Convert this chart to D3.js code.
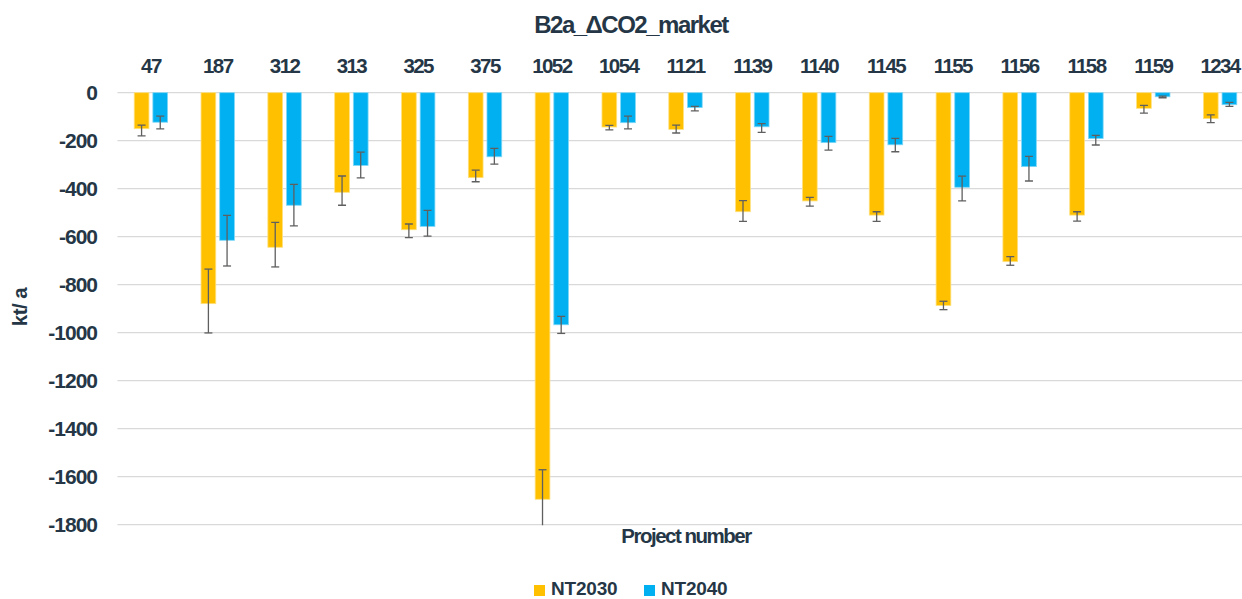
<!DOCTYPE html>
<html>
<head>
<meta charset="utf-8">
<script src="https://cdn.jsdelivr.net/npm/d3@7"></script>
<style>
  html, body { margin: 0; padding: 0; background: #fff; }
  svg text { font-family: "Liberation Sans", Arial, sans-serif; font-weight: bold; fill: #253746; }
</style>
</head>
<body>
<svg id="chart" width="1242" height="599"></svg>
<script>
// ---------- data ----------
const categories = ["47","187","312","313","325","375","1052","1054","1121","1139","1140","1145","1155","1156","1158","1159","1234"];
const seriesNames = ["NT2030","NT2040"];
const nt2030 = [-150,-879,-644,-415,-571,-354,-1694,-143,-153,-496,-451,-510,-887,-704,-510,-65,-108];
const nt2040 = [-123,-615,-469,-303,-557,-267,-967,-125,-62,-142,-208,-217,-394,-308,-191,-17,-50];
// error bar ends (upper = closer to zero, lower = more negative)
const nt2030ErrHi = [-135,-735,-540,-347,-547,-323,-1571,-136,-135,-450,-436,-496,-869,-683,-496,-53,-92];
const nt2030ErrLo = [-180,-1001,-726,-469,-604,-371,-1850,-155,-168,-536,-473,-536,-904,-719,-535,-85,-125];
const nt2040ErrHi = [-98,-511,-382,-248,-490,-232,-932,-98,-57,-129,-182,-190,-348,-265,-178,-14,-40];
const nt2040ErrLo = [-151,-722,-555,-355,-598,-298,-1003,-151,-76,-165,-239,-246,-451,-368,-218,-21,-57];
const yTicks = [0,-200,-400,-600,-800,-1000,-1200,-1400,-1600,-1800];
const colors = ["#FFC000","#00B0F0"];
const strokeColors = ["#FFE17F","#7FD7F7"];

// ---------- layout ----------
const svg = d3.select("#chart");
const plotLeft = 117.5, plotRight = 1253.5, plotTop = 92.7, plotBottom = 524.7;

const x0 = d3.scaleBand().domain(categories).range([plotLeft, plotRight]).paddingInner(0.5).paddingOuter(0.25);
const x1 = d3.scaleBand().domain(seriesNames).range([0, x0.bandwidth()]).paddingInner(0.21);
const y = d3.scaleLinear().domain([0, -1800]).range([plotTop, plotBottom]);

const data = seriesNames.map((s, si) => ({
  name: s,
  color: colors[si],
  stroke: strokeColors[si],
  values: si === 0 ? nt2030 : nt2040,
  hi: si === 0 ? nt2030ErrHi : nt2040ErrHi,
  lo: si === 0 ? nt2030ErrLo : nt2040ErrLo
}));

// clip
svg.append("defs").append("clipPath").attr("id", "plotclip")
  .append("rect").attr("x", 0).attr("y", plotTop - 2).attr("width", 1242).attr("height", plotBottom - plotTop + 2.5);

// gridlines
svg.append("g").selectAll("line").data(yTicks).join("line")
  .attr("x1", plotLeft).attr("x2", 1242)
  .attr("y1", d => y(d)).attr("y2", d => y(d))
  .attr("stroke", "#D9D9D9").attr("stroke-width", 1.3);

// y tick labels
svg.append("g").selectAll("text").data(yTicks).join("text")
  .attr("x", 97).attr("y", d => y(d) + 7.5)
  .attr("text-anchor", "end")
  .style("font-size", "21px").style("letter-spacing", "-1px")
  .text(d => d3.format("d")(d).replace("−", "-"));

// bars
const groups = svg.append("g").attr("clip-path", "url(#plotclip)");
data.forEach(s => {
  groups.append("g").selectAll("rect").data(categories).join("rect")
    .attr("x", (c) => x0(c) + x1(s.name))
    .attr("width", x1.bandwidth())
    .attr("y", y(0))
    .attr("height", (c, i) => y(s.values[i]) - y(0))
    .attr("fill", s.color)
    .attr("stroke", s.stroke).attr("stroke-width", 0.8);
});

// error bars
data.forEach(s => {
  const g = groups.append("g").attr("stroke", "#5F5F5F").attr("stroke-width", 1.3);
  categories.forEach((c, i) => {
    const cx = x0(c) + x1(s.name) + x1.bandwidth() / 2;
    g.append("line").attr("x1", cx).attr("x2", cx).attr("y1", y(s.hi[i])).attr("y2", y(s.lo[i]));
    [s.hi[i], s.lo[i]].forEach(v => {
      if (v >= -1800) {
        g.append("line").attr("x1", cx - 4).attr("x2", cx + 4).attr("y1", y(v)).attr("y2", y(v));
      }
    });
  });
});

// category labels at top
svg.append("g").selectAll("text").data(categories).join("text")
  .attr("x", c => x0(c) + x0.bandwidth() / 2)
  .attr("y", 73.3)
  .attr("text-anchor", "middle")
  .style("font-size", "20.5px").style("letter-spacing", "-1.6px")
  .text(c => c);

// title
svg.append("text").attr("x", 631).attr("y", 32.5).attr("text-anchor", "middle")
  .style("font-size", "24px").style("letter-spacing", "-1.5px")
  .text("B2a_\u0394CO2_market");

// axis titles
svg.append("text").attr("x", 686).attr("y", 543).attr("text-anchor", "middle")
  .style("font-size", "20.5px").style("letter-spacing", "-1.5px")
  .text("Project number");

svg.append("text")
  .attr("transform", "translate(27,307) rotate(-90)")
  .attr("text-anchor", "middle")
  .style("font-size", "20.5px").style("letter-spacing", "-0.5px")
  .text("kt/ a");

// legend
const legendX = [534, 644];
const legend = svg.append("g");
data.forEach((s, si) => {
  legend.append("rect").attr("x", legendX[si]).attr("y", 585).attr("width", 11).attr("height", 11).attr("fill", s.color);
  legend.append("text").attr("x", legendX[si] + 17).attr("y", 595)
    .style("font-size", "19px").style("letter-spacing", "-0.2px")
    .text(s.name);
});
</script>
</body>
</html>
